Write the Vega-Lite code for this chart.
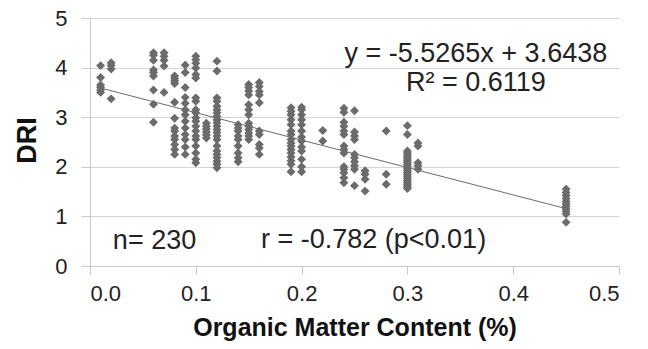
{
  "$schema": "https://vega.github.io/schema/vega-lite/v6.json",
  "width": 529,
  "height": 248,
  "autosize": {"type": "none"},
  "padding": {"left": 90, "top": 18, "right": 29, "bottom": 83},
  "background": "white",
  "config": {
    "view": {"stroke": null},
    "font": "Liberation Sans"
  },
  "datasets": {
    "pts": [
      {"x":0.01,"y":4.04},{"x":0.01,"y":3.8},{"x":0.01,"y":3.65},{"x":0.01,"y":3.6},{"x":0.01,"y":3.55},{"x":0.01,"y":3.5},
      {"x":0.02,"y":4.1},{"x":0.02,"y":4.04},{"x":0.02,"y":3.97},{"x":0.02,"y":3.37},
      {"x":0.06,"y":4.3},{"x":0.06,"y":4.25},{"x":0.06,"y":4.15},{"x":0.06,"y":3.95},{"x":0.06,"y":3.9},{"x":0.06,"y":3.83},{"x":0.06,"y":3.55},{"x":0.06,"y":3.26},{"x":0.06,"y":2.9},
      {"x":0.07,"y":4.3},{"x":0.07,"y":4.23},{"x":0.07,"y":4.15},{"x":0.07,"y":4.03},{"x":0.07,"y":3.5},
      {"x":0.08,"y":3.83},{"x":0.08,"y":3.78},{"x":0.08,"y":3.73},{"x":0.08,"y":3.68},{"x":0.08,"y":3.3},{"x":0.08,"y":2.98},{"x":0.08,"y":2.78},{"x":0.08,"y":2.72},{"x":0.08,"y":2.62},{"x":0.08,"y":2.55},{"x":0.08,"y":2.45},{"x":0.08,"y":2.35},{"x":0.08,"y":2.25},
      {"x":0.09,"y":4.05},{"x":0.09,"y":3.9},{"x":0.09,"y":3.6},{"x":0.09,"y":3.4},{"x":0.09,"y":3.28},{"x":0.09,"y":3.15},{"x":0.09,"y":3.05},{"x":0.09,"y":2.92},{"x":0.09,"y":2.78},{"x":0.09,"y":2.65},{"x":0.09,"y":2.55},{"x":0.09,"y":2.4},{"x":0.09,"y":2.25},
      {"x":0.1,"y":4.23},{"x":0.1,"y":4.16},{"x":0.1,"y":4.09},{"x":0.1,"y":3.99},{"x":0.1,"y":3.86},{"x":0.1,"y":3.79},{"x":0.1,"y":3.39},{"x":0.1,"y":3.32},{"x":0.1,"y":3.15},{"x":0.1,"y":3.09},{"x":0.1,"y":2.99},{"x":0.1,"y":2.92},{"x":0.1,"y":2.82},{"x":0.1,"y":2.72},{"x":0.1,"y":2.62},{"x":0.1,"y":2.55},{"x":0.1,"y":2.42},{"x":0.1,"y":2.28},{"x":0.1,"y":2.15},{"x":0.1,"y":2.08},
      {"x":0.11,"y":2.88},{"x":0.11,"y":2.82},{"x":0.11,"y":2.76},{"x":0.11,"y":2.7},{"x":0.11,"y":2.64},{"x":0.11,"y":2.58},
      {"x":0.12,"y":4.13},{"x":0.12,"y":3.93},{"x":0.12,"y":3.39},{"x":0.12,"y":3.32},{"x":0.12,"y":3.22},{"x":0.12,"y":3.15},{"x":0.12,"y":3.09},{"x":0.12,"y":3.02},{"x":0.12,"y":2.95},{"x":0.12,"y":2.89},{"x":0.12,"y":2.82},{"x":0.12,"y":2.75},{"x":0.12,"y":2.69},{"x":0.12,"y":2.62},{"x":0.12,"y":2.55},{"x":0.12,"y":2.42},{"x":0.12,"y":2.32},{"x":0.12,"y":2.25},{"x":0.12,"y":2.18},{"x":0.12,"y":2.11},{"x":0.12,"y":2.05},{"x":0.12,"y":1.98},
      {"x":0.14,"y":2.85},{"x":0.14,"y":2.78},{"x":0.14,"y":2.72},{"x":0.14,"y":2.62},{"x":0.14,"y":2.55},{"x":0.14,"y":2.42},{"x":0.14,"y":2.28},{"x":0.14,"y":2.18},{"x":0.14,"y":2.1},
      {"x":0.15,"y":3.66},{"x":0.15,"y":3.6},{"x":0.15,"y":3.53},{"x":0.15,"y":3.45},{"x":0.15,"y":3.25},{"x":0.15,"y":3.15},{"x":0.15,"y":3.05},{"x":0.15,"y":2.88},{"x":0.15,"y":2.82},{"x":0.15,"y":2.75},{"x":0.15,"y":2.68},{"x":0.15,"y":2.62},{"x":0.15,"y":2.55},
      {"x":0.16,"y":3.7},{"x":0.16,"y":3.62},{"x":0.16,"y":3.52},{"x":0.16,"y":3.45},{"x":0.16,"y":3.29},{"x":0.16,"y":2.72},{"x":0.16,"y":2.65},{"x":0.16,"y":2.45},{"x":0.16,"y":2.38},{"x":0.16,"y":2.25},
      {"x":0.19,"y":3.19},{"x":0.19,"y":3.12},{"x":0.19,"y":3.05},{"x":0.19,"y":2.95},{"x":0.19,"y":2.85},{"x":0.19,"y":2.72},{"x":0.19,"y":2.65},{"x":0.19,"y":2.55},{"x":0.19,"y":2.48},{"x":0.19,"y":2.42},{"x":0.19,"y":2.35},{"x":0.19,"y":2.28},{"x":0.19,"y":2.2},{"x":0.19,"y":2.12},{"x":0.19,"y":2.05},{"x":0.19,"y":1.9},
      {"x":0.2,"y":3.2},{"x":0.2,"y":3.15},{"x":0.2,"y":3.05},{"x":0.2,"y":2.95},{"x":0.2,"y":2.85},{"x":0.2,"y":2.72},{"x":0.2,"y":2.6},{"x":0.2,"y":2.52},{"x":0.2,"y":2.4},{"x":0.2,"y":2.32},{"x":0.2,"y":2.15},{"x":0.2,"y":2.0},{"x":0.2,"y":1.9},
      {"x":0.22,"y":2.73},{"x":0.22,"y":2.52},
      {"x":0.24,"y":3.18},{"x":0.24,"y":3.1},{"x":0.24,"y":2.9},{"x":0.24,"y":2.82},{"x":0.24,"y":2.72},{"x":0.24,"y":2.65},{"x":0.24,"y":2.42},{"x":0.24,"y":2.35},{"x":0.24,"y":2.28},{"x":0.24,"y":2.0},{"x":0.24,"y":1.95},{"x":0.24,"y":1.88},{"x":0.24,"y":1.78},{"x":0.24,"y":1.68},
      {"x":0.25,"y":3.13},{"x":0.25,"y":2.7},{"x":0.25,"y":2.62},{"x":0.25,"y":2.55},{"x":0.25,"y":2.25},{"x":0.25,"y":2.18},{"x":0.25,"y":2.1},{"x":0.25,"y":2.02},{"x":0.25,"y":1.95},{"x":0.25,"y":1.62},
      {"x":0.26,"y":1.92},{"x":0.26,"y":1.85},{"x":0.26,"y":1.75},{"x":0.26,"y":1.51},
      {"x":0.28,"y":2.72},{"x":0.28,"y":1.85},{"x":0.28,"y":1.65},
      {"x":0.3,"y":2.83},{"x":0.3,"y":2.65},{"x":0.3,"y":2.32},{"x":0.3,"y":2.28},{"x":0.3,"y":2.24},{"x":0.3,"y":2.2},{"x":0.3,"y":2.16},{"x":0.3,"y":2.12},{"x":0.3,"y":2.08},{"x":0.3,"y":2.04},{"x":0.3,"y":2.0},{"x":0.3,"y":1.96},{"x":0.3,"y":1.92},{"x":0.3,"y":1.88},{"x":0.3,"y":1.84},{"x":0.3,"y":1.8},{"x":0.3,"y":1.76},{"x":0.3,"y":1.72},{"x":0.3,"y":1.68},{"x":0.3,"y":1.64},{"x":0.3,"y":1.6},{"x":0.3,"y":1.56},
      {"x":0.31,"y":2.48},{"x":0.31,"y":2.42},{"x":0.31,"y":2.08},{"x":0.31,"y":2.02},{"x":0.31,"y":1.95},
      {"x":0.45,"y":1.55},{"x":0.45,"y":1.48},{"x":0.45,"y":1.42},{"x":0.45,"y":1.36},{"x":0.45,"y":1.3},{"x":0.45,"y":1.25},{"x":0.45,"y":1.2},{"x":0.45,"y":1.15},{"x":0.45,"y":1.1},{"x":0.45,"y":1.05},{"x":0.45,"y":0.88}
    ],
    "trend": [
      {"x": 0.01, "y": 3.5885},
      {"x": 0.45, "y": 1.1569}
    ],
    "notes": [
      {"x": 0.3647, "y": 4.12, "label": "y = -5.5265x + 3.6438"},
      {"x": 0.3647, "y": 3.52, "label": "R² = 0.6119"},
      {"x": 0.061, "y": 0.34, "label": "n= 230"},
      {"x": 0.268, "y": 0.37, "label": "r = -0.782 (p<0.01)"}
    ]
  },
  "layer": [
    {
      "data": {"name": "pts"},
      "mark": {"type": "point", "shape": "diamond", "filled": true, "size": 80, "color": "#6b6b6b", "opacity": 1},
      "encoding": {
        "x": {
          "field": "x", "type": "quantitative",
          "scale": {"domain": [0, 0.5], "nice": false},
          "axis": {
            "title": "Organic Matter Content (%)",
            "values": [0, 0.1, 0.2, 0.3, 0.4, 0.5],
            "format": ".1f",
            "grid": false,
            "domainColor": "#c8c8c8",
            "tickColor": "#c8c8c8",
            "tickSize": 8,
            "labelFontSize": 22,
            "labelColor": "#222222",
            "labelPadding": 9,
            "labelFont": "Liberation Sans",
            "titleFont": "Liberation Sans",
            "titleFontSize": 25,
            "titleFontWeight": "bold",
            "titleColor": "#111111",
            "titlePadding": 11
          }
        },
        "y": {
          "field": "y", "type": "quantitative",
          "scale": {"domain": [0, 5], "nice": false},
          "axis": {
            "title": "DRI",
            "values": [0, 1, 2, 3, 4, 5],
            "grid": true,
            "gridColor": "#d4d4d4",
            "gridWidth": 1,
            "domainColor": "#c8c8c8",
            "tickColor": "#c8c8c8",
            "tickSize": 9,
            "labelFontSize": 22,
            "labelColor": "#222222",
            "labelPadding": 14,
            "labelFont": "Liberation Sans",
            "titleFont": "Liberation Sans",
            "titleFontSize": 27,
            "titleFontWeight": "bold",
            "titleColor": "#111111",
            "titleBaseline": "middle",
            "titleX": -63,
            "titleY": 122
          }
        }
      }
    },
    {
      "data": {"name": "trend"},
      "mark": {"type": "line", "color": "#6b6b6b", "strokeWidth": 1},
      "encoding": {
        "x": {"field": "x", "type": "quantitative"},
        "y": {"field": "y", "type": "quantitative"}
      }
    },
    {
      "data": {"name": "notes"},
      "mark": {"type": "text", "fontSize": 27, "font": "Liberation Sans", "color": "#222222", "align": "center", "baseline": "alphabetic"},
      "encoding": {
        "x": {"field": "x", "type": "quantitative"},
        "y": {"field": "y", "type": "quantitative"},
        "text": {"field": "label", "type": "nominal"}
      }
    }
  ]
}
